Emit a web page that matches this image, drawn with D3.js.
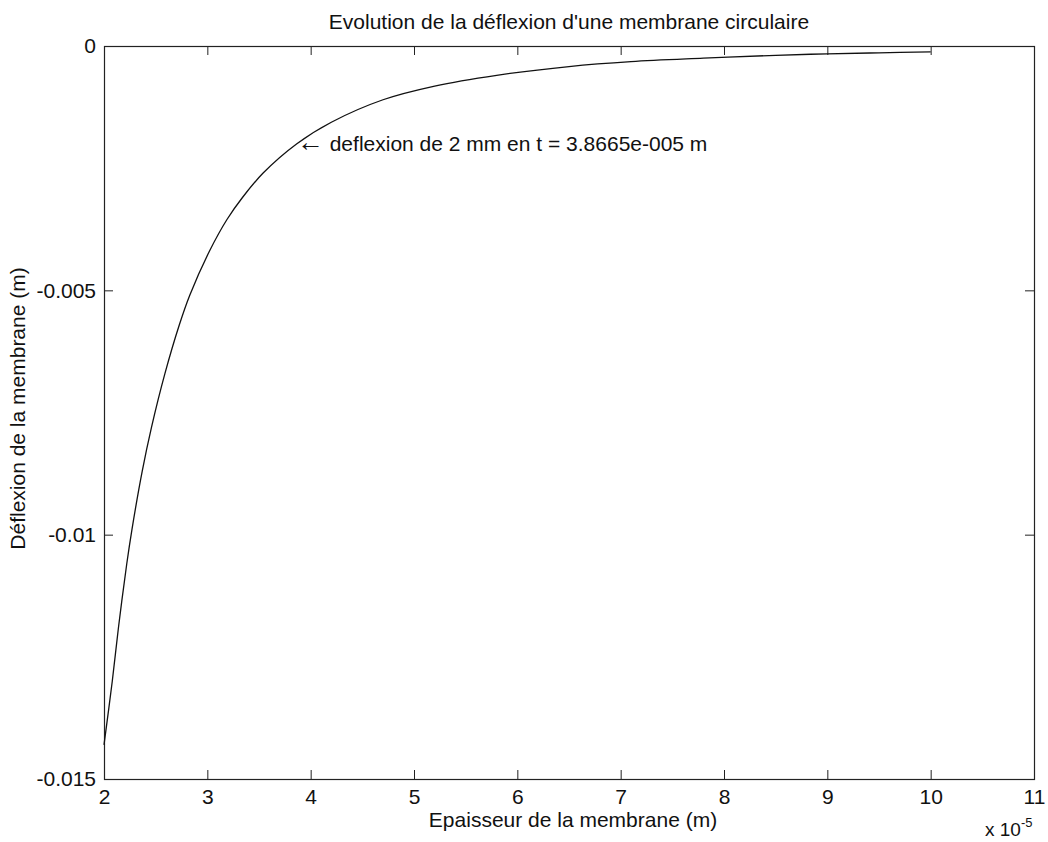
<!DOCTYPE html>
<html>
<head>
<meta charset="utf-8">
<script src="https://cdn.jsdelivr.net/npm/d3@7"></script>
<style>
	body{ margin:0; background:#fff; }
	svg text{ font-family:"Liberation Sans", Arial, sans-serif; fill:#111; }
</style>
</head>
<body>
<svg id="chart" width="1048" height="842"></svg>
<script>
// epaisseur de la membrane, in units of 1e-5 m
const thickness = [2.0, 2.08, 2.14, 2.22, 2.27, 2.37, 2.46, 2.59, 2.73, 2.83, 3.02, 3.19, 3.34, 3.54, 3.8665,
	4.2, 4.7, 5.2, 5.8, 6.5, 7.1, 7.8, 8.5, 9.0, 9.5, 10.0];
// deflexion (m)
const deflection = [-0.0143, -0.0130, -0.0119, -0.0106, -0.0099, -0.0087, -0.0078, -0.0067, -0.0057, -0.0051,
	-0.0042, -0.00355, -0.0031, -0.0026, -0.0020, -0.00156, -0.0011, -0.00082, -0.00060, -0.00042,
	-0.00032, -0.00025, -0.00019, -0.00016, -0.00014, -0.00012];

const xTicks = [2, 3, 4, 5, 6, 7, 8, 9, 10, 11];
const yTicks = [0, -0.005, -0.01, -0.015];
const yTickLabels = ["0", "-0.005", "-0.01", "-0.015"];

const annotationPoint = [3.8665, -0.002];
const annotationText = " deflexion de 2 mm en t = 3.8665e-005 m";

drawChart();

function drawChart(){
	let svg = d3.select("#chart"),
		left = 104, right = 1034, top = 46, bottom = 779,
		tickLen = 9,
		fontSize = 21,
		points = thickness.map(function(t, i){ return [t, deflection[i]]; });

	let x = d3.scaleLinear().domain([2, 11]).range([left, right]),
		y = d3.scaleLinear().domain([-0.015, 0]).range([bottom, top]);

	initAxes();
	drawCurve();
	drawTexts();

	//four axes with inward ticks, labels only on bottom and left
	function initAxes(){
		svg.append("g")
			.attr("transform", "translate(0," + bottom + ")")
			.call(d3.axisBottom(x).tickValues(xTicks).tickSize(-tickLen).tickPadding(10)
				.tickFormat(d3.format("d")));
		svg.append("g")
			.attr("transform", "translate(0," + top + ")")
			.call(d3.axisTop(x).tickValues(xTicks).tickSize(-tickLen).tickFormat(""));
		svg.append("g")
			.attr("transform", "translate(" + left + ",0)")
			.call(d3.axisLeft(y).tickValues(yTicks).tickSize(-tickLen).tickPadding(8)
				.tickFormat(function(d, i){ return yTickLabels[i]; }));
		svg.append("g")
			.attr("transform", "translate(" + right + ",0)")
			.call(d3.axisRight(y).tickValues(yTicks).tickSize(-tickLen).tickFormat(""));

		svg.selectAll(".domain").remove();
		svg.selectAll(".tick line").attr("stroke", "#222").attr("stroke-width", 1);
		svg.selectAll(".tick text")
			.attr("font-size", fontSize)
			.attr("font-family", "Liberation Sans, Arial, sans-serif")
			.attr("fill", "#111");

		svg.append("rect")
			.attr("x", left + 0.5)
			.attr("y", top + 0.5)
			.attr("width", right - left)
			.attr("height", bottom - top)
			.attr("fill", "none")
			.attr("stroke", "#222")
			.attr("stroke-width", 1.2);
	}

	function drawCurve(){
		let line = d3.line()
			.x(function(d){ return x(d[0]); })
			.y(function(d){ return y(d[1]); })
			.curve(d3.curveCatmullRom.alpha(0.5));

		svg.append("path")
			.datum(points)
			.attr("d", line)
			.attr("fill", "none")
			.attr("stroke", "#111")
			.attr("stroke-width", 1.3);
	}

	function drawTexts(){
		svg.append("text")
			.attr("x", (left + right) / 2)
			.attr("y", 29)
			.attr("text-anchor", "middle")
			.attr("font-size", fontSize)
			.text("Evolution de la déflexion d'une membrane circulaire");

		svg.append("text")
			.attr("x", (left + right) / 2 + 4)
			.attr("y", 827)
			.attr("text-anchor", "middle")
			.attr("font-size", fontSize)
			.text("Epaisseur de la membrane (m)");

		svg.append("text")
			.attr("transform", "translate(25," + ((top + bottom) / 2 - 4) + ") rotate(-90)")
			.attr("text-anchor", "middle")
			.attr("font-size", fontSize)
			.text("Déflexion de la membrane (m)");

		//arrow glyph is set a bit larger, like the symbol font of the original
		let note = svg.append("text")
			.attr("x", x(annotationPoint[0]))
			.attr("y", y(annotationPoint[1]) + 7)
			.attr("font-size", fontSize);
		note.append("tspan")
			.attr("font-size", 27)
			.text("\u2190");
		note.append("tspan")
			.text(annotationText);

		let exponent = svg.append("text")
			.attr("x", 985)
			.attr("y", 836)
			.attr("font-size", fontSize - 2);
		exponent.append("tspan").text("x 10");
		exponent.append("tspan")
			.attr("dy", -9)
			.attr("font-size", 13)
			.text("-5");
	}
}
</script>
</body>
</html>
